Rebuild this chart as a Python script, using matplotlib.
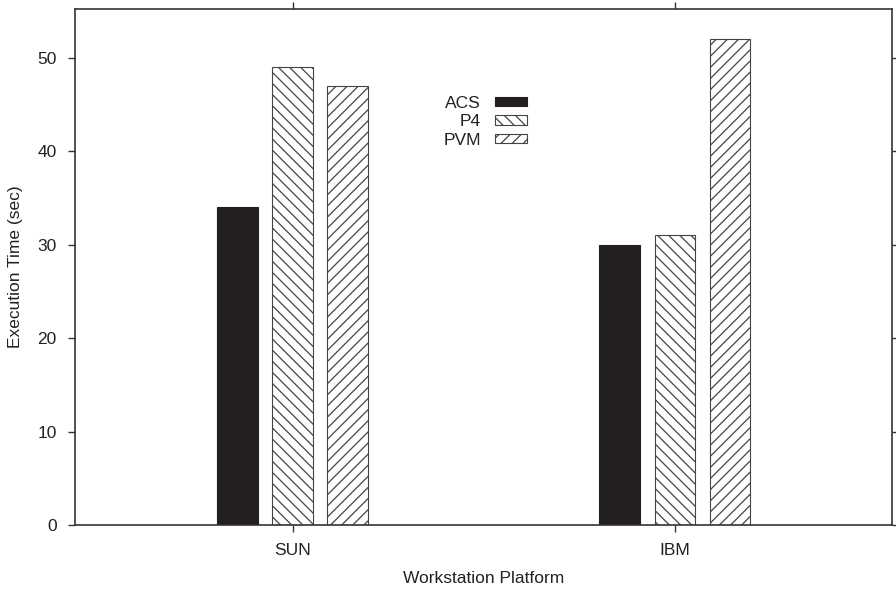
import matplotlib
matplotlib.use("Agg")
import matplotlib.pyplot as plt
import numpy as np

plt.rcParams['font.family'] = ['Liberation Sans', 'DejaVu Sans']
plt.rcParams['hatch.linewidth'] = 0.9
plt.rcParams['hatch.color'] = '#333333'

categories = ["SUN", "IBM"]
series = ["ACS", "P4", "PVM"]
acs = [34, 30]
p4 = [49, 31]
pvm = [47, 52]

fs = 12.5
fig = plt.figure(figsize=(8.96, 5.89), dpi=100)
ax = fig.add_axes([75/896, 1-525/589, (892-75)/896, (525-9)/589])

x = np.arange(1, len(categories)+1)
w = 0.107
off = 0.144
edge = '#444444'
ax.bar(x - off, acs, w, color='#231f20', edgecolor='#231f20', linewidth=0.8, label='ACS')
ax.bar(x, p4, w, color='white', edgecolor=edge, hatch='\\\\\\', linewidth=0.8, label='P4')
ax.bar(x + off, pvm, w, color='white', edgecolor=edge, hatch='///', linewidth=0.8, label='PVM')

ax.set_xlim(0.43, 2.568)
ax.set_ylim(0, 55.2)
ax.set_xticks(x)
ax.set_xticklabels(categories)
ax.set_yticks(np.arange(0, 51, 10))
ax.tick_params(direction='out', length=5.3, width=1, colors='#333333', labelcolor='#222222',
               labelsize=fs, top=True, right=True, pad=8)
for s in ax.spines.values():
    s.set_color('#333333')
    s.set_linewidth(1.2)

ax.set_xlabel("Workstation Platform", fontsize=fs, color='#222222', labelpad=9)
ax.set_ylabel("Execution Time (sec)", fontsize=fs, color='#222222', labelpad=10)

leg = ax.legend(loc='upper right', bbox_to_anchor=(0.553, 0.832), frameon=False, fontsize=fs,
                markerfirst=False, handlelength=1.84, handleheight=0.46, labelspacing=0.2,
                handletextpad=0.8, borderaxespad=0, borderpad=0)
for t in leg.get_texts():
    t.set_ha('right')
    t.set_color('#222222')

fig.savefig("out.png", dpi=100)
